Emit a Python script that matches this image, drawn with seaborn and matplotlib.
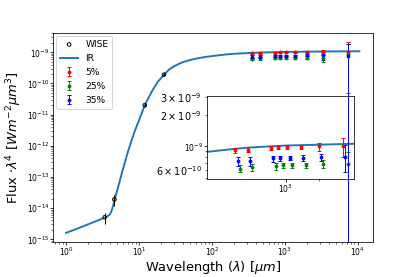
import numpy as np
import matplotlib
matplotlib.use("Agg")
import matplotlib.pyplot as plt
import seaborn as sns
from matplotlib.ticker import FixedLocator, NullFormatter

# ---- data ----
ir_wl = [1.0, 1.25, 1.5, 1.75, 2.0, 2.5, 3.0, 3.5, 3.8, 4.0, 4.2, 4.4, 4.6, 4.8,
         5.0, 5.5, 6.0, 6.5, 7.0, 8.0, 9.0, 10, 12, 15, 18, 22, 26, 30, 35, 40,
         50, 60, 80, 100, 150, 200, 350, 500, 1000, 2000, 4000, 10500]
ir_flux = [1.6e-15, 1.95e-15, 2.3e-15, 2.65e-15, 3.0e-15, 3.7e-15, 4.4e-15, 5.1e-15,
           5.7e-15, 6.3e-15, 8e-15, 1.15e-14, 1.75e-14, 2.5e-14, 3.5e-14, 8e-14,
           1.7e-13, 3.3e-13, 6e-13, 1.6e-12, 3.5e-12, 6.5e-12, 2.0e-11, 5.5e-11,
           1.1e-10, 1.9e-10, 2.8e-10, 3.5e-10, 4.2e-10, 4.8e-10, 5.6e-10, 6.2e-10,
           7.0e-10, 7.5e-10, 8.4e-10, 8.9e-10, 9.5e-10, 9.8e-10, 1.02e-9, 1.04e-9,
           1.06e-9, 1.07e-9]

wise_wl = [3.4, 4.6, 12, 22]
wise_flux = [5.1e-15, 1.9e-14, 2.0e-11, 1.9e-10]
wise_err = [2.0e-15, 7e-15, 2e-12, 2e-11]

wl = [351, 455, 737, 853, 1034, 1374, 1982, 3283, 7300]
flux_5 = [9.2e-10, 9.35e-10, 9.7e-10, 9.8e-10, 9.85e-10, 9.85e-10, 1.0e-9, 1.0e-9, 1.05e-9]
err_5 = [5e-11, 5e-11, 5e-11, 4e-11, 4e-11, 4e-11, 9e-11, 2.1e-10, 1.0e-9]
flux_25 = [6.13e-10, 6.3e-10, 6.5e-10, 6.6e-10, 6.6e-10, 6.6e-10, 6.76e-10, 6.76e-10, 8.6e-10]
err_25 = [5e-11, 5e-11, 5e-11, 4e-11, 4e-11, 4e-11, 6e-11, 2e-10, 1.0e-9]
flux_35 = [7.2e-10, 7.2e-10, 7.67e-10, 7.67e-10, 7.77e-10, 7.77e-10, 7.9e-10, 7.94e-10, 7.6e-10]
err_35 = [7e-11, 7e-11, 5e-11, 4e-11, 4e-11, 5e-11, 6e-11, 2.3e-10, 1.1e-9]

series_labels = ["5%", "25%", "35%"]
series_colors = ["red", "green", "blue"]

# ---- figure ----
fig = plt.figure(figsize=(6, 4.005), dpi=69.2)
ax = fig.add_axes([0.127, 0.1253, 0.7725, 0.7567])
axin = fig.add_axes([0.498, 0.3527, 0.3537, 0.2996])
ax.set_zorder(2)
ax.patch.set_visible(False)
axin.set_zorder(1)

ax.set_xscale("log")
ax.set_yscale("log")

sns.lineplot(x=ir_wl, y=ir_flux, ax=ax, color="#1f77b4", lw=2, sort=False,
             estimator=None, legend=False)
ax.errorbar(wise_wl, wise_flux, yerr=wise_err, fmt="none", ecolor="k", lw=1)
wise_h = ax.scatter(wise_wl, wise_flux, s=14, facecolors="none", edgecolors="k",
                    linewidths=1, zorder=3, label="WISE")

handles = []
for fl, er, lab, col in zip([flux_5, flux_25, flux_35], [err_5, err_25, err_35],
                            series_labels, series_colors):
    h = ax.errorbar(wl, fl, yerr=er, fmt=".", color=col, ecolor=col, capsize=2,
                    lw=1, label=lab)
    handles.append(h)

ax.set_xlim(0.657, 16400)
ax.set_ylim(8.0e-16, 4.27e-9)
for a in (ax, axin):
    a.tick_params(which="major", labelsize=8, length=2.8, pad=0.6)
    a.tick_params(which="minor", length=1.6)
ax.set_xlabel(r"Wavelength ($\lambda$) [$\mu m$]", fontsize=13.5, labelpad=0.5)
ax.set_ylabel(r"Flux $\cdot\lambda^4$ [$Wm^{-2}\mu m^3$]", fontsize=13.5, labelpad=3)

ir_line = ax.get_lines()[0]
ax.legend([wise_h, ir_line] + handles, ["WISE", "IR"] + series_labels,
          loc="upper left", fontsize=9.5, labelspacing=0.55, borderaxespad=0.4)

# ---- inset ----
axin.set_xscale("log")
axin.set_yscale("log")
sns.lineplot(x=ir_wl, y=ir_flux, ax=axin, color="#1f77b4", lw=2, sort=False,
             estimator=None, legend=False)
dodge = [1.0, 1.098, 1.047]
for fl, er, col, d in zip([flux_5, flux_25, flux_35], [err_5, err_25, err_35],
                          series_colors, dodge):
    axin.errorbar(np.array(wl) * d, fl, yerr=er, fmt=".", color=col, ecolor=col,
                  capsize=2, lw=1)
axin.set_xlim(194, 4080)
axin.set_ylim(4.85e-10, 3.03e-9)
axin.xaxis.set_major_locator(FixedLocator([1000]))
axin.xaxis.set_minor_locator(FixedLocator([2000]))
axin.xaxis.set_minor_formatter(NullFormatter())

fig.savefig("out.png", dpi=69.2)
